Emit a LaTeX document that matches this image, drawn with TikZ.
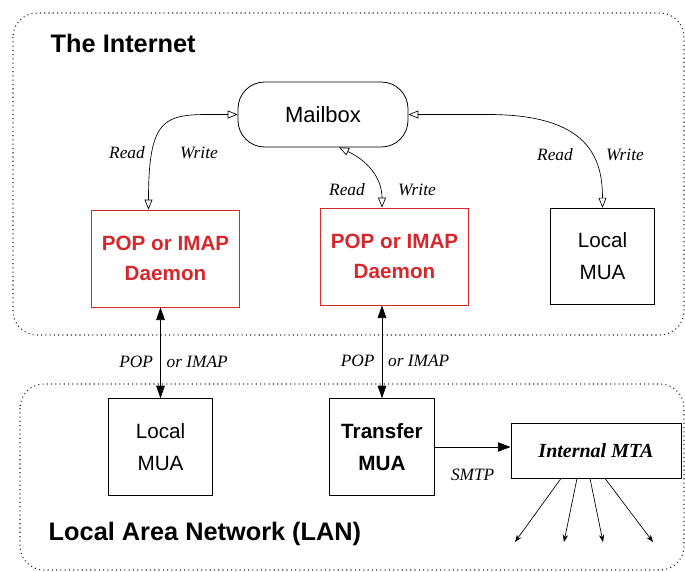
\documentclass[tikz,border=0pt]{standalone}
\usepackage{fontspec}
\setmainfont{Liberation Serif}
\setsansfont{Liberation Sans}
\usetikzlibrary{arrows.meta,positioning,calc}
\definecolor{daemonred}{RGB}{214,40,44}

\begin{document}
\begin{tikzpicture}[x=0.75pt, y=-0.75pt,
    region/.style={draw=black!85, line width=0.8pt, dash pattern=on 0.8pt off 2.4pt, rounded corners=18pt},
    title/.style={anchor=base west, font=\sffamily\bfseries\fontsize{19}{22}\selectfont},
    box/.style={draw, line width=0.6pt, align=center, inner sep=0pt, font=\sffamily\fontsize{15.5}{24}\selectfont},
    daemon/.style={box, draw=daemonred, text=daemonred, font=\sffamily\bfseries\fontsize{15.5}{22}\selectfont, minimum width=111pt, minimum height=72.75pt},
    mua/.style={box, minimum width=78.5pt, minimum height=72.5pt},
    lbl/.style={font=\itshape\fontsize{13}{15}\selectfont},
    rw/.style={{Triangle[open,length=7.5pt,width=6pt]}-{Triangle[open,length=7.5pt,width=6pt]}, line width=0.5pt},
    proto/.style={{Triangle[length=9.5pt,width=6.5pt]}-{Triangle[length=9.5pt,width=6.5pt]}, line width=0.6pt},
    arr/.style={-{Triangle[length=9.5pt,width=7pt]}, line width=0.6pt},
    fan/.style={-{Stealth[length=5.5pt,width=4pt]}, line width=0.5pt}
]
\useasboundingbox (0,0) rectangle (685,571);

\draw[region] (13,13) rectangle (684,335);
\draw[region] (20,384) rectangle (684,570);
\node[title] (inet) at (46,52) {The Internet};
\node[title] (lan) at (44,540) {Local Area Network (LAN)};

\node[box, rounded corners=20pt, minimum width=127.5pt, minimum height=48.75pt, font=\sffamily\fontsize{16.5}{20}\selectfont] (mbox) at (323,114.5) {Mailbox};
\node[daemon] (popa) at (165.5,258.5) {POP or IMAP\\Daemon};
\node[daemon] (popb) at (394.5,256.5) {POP or IMAP\\Daemon};
\node[mua] (rmua) at (602.5,256.5) {Local\\MUA};

\node[mua] (lmua) at (160.5,447) {Local\\MUA};
\node[mua, font=\sffamily\bfseries\fontsize{15.5}{24}\selectfont] (tmua) at (382,447) {Transfer\\MUA};
\node[box, minimum width=127.5pt, minimum height=41.25pt, font=\bfseries\itshape\fontsize{15}{18}\selectfont] (mta) at (596,450.5) {Internal MTA};

\draw[rw] (mbox.west) .. controls +(-70,0) and +(0,-100) .. ($(popa.north)+(-17,0)$);
\draw[rw] ($(mbox.south)+(16,0)$) .. controls +(28,13) and +(0,-30) .. (tmua.north |- popb.north);
\draw[rw] (mbox.east) -- +(80,0) .. controls +(100,0) and +(0,-50) .. (rmua.north);
\node[lbl] (rd1) at (127,153) {Read};
\node[lbl] (wr1) at (199,153) {Write};
\node[lbl] (rd2) at (347,190) {Read};
\node[lbl] (wr2) at (417,190) {Write};
\node[lbl] (rd3) at (555,155) {Read};
\node[lbl] (wr3) at (625,155) {Write};

\draw[proto] (lmua.north) -- node[pos=0.4, lbl, left=2pt] {POP} node[pos=0.4, lbl, right=1pt] {or IMAP} (lmua.north |- popa.south);
\draw[proto] (tmua.north) -- node[pos=0.4, lbl, left=2pt] {POP} node[pos=0.4, lbl, right=1pt] {or IMAP} (tmua.north |- popb.south);
\draw[arr] (tmua.east) -- node[midway, lbl, below=13pt] {SMTP} (tmua.east -| mta.west);

\foreach \sx/\ex [count=\i] in {-35/515, -19/564, -6/603, 9/653}{
  \coordinate (out\i) at (\ex,542);
  \draw[fan] ($(mta.south)+(\sx,0)$) -- (out\i);
}
\end{tikzpicture}
\end{document}
